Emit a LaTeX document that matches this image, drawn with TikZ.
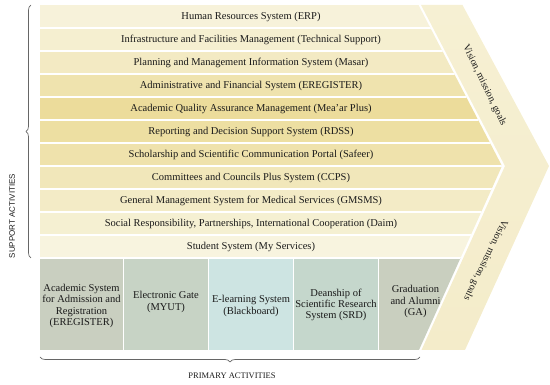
\documentclass[tikz,border=0pt]{standalone}
\usepackage{fontspec}
\setmainfont{Liberation Serif}
\setsansfont{Liberation Sans}
\usetikzlibrary{decorations.pathreplacing}
\definecolor{r1}{HTML}{F7F2DA}
\definecolor{r2}{HTML}{F5EFD0}
\definecolor{r3}{HTML}{F3EAC3}
\definecolor{r4}{HTML}{EFE3AE}
\definecolor{r5}{HTML}{ECDC9B}
\definecolor{r6}{HTML}{EDDFA2}
\definecolor{r7}{HTML}{EFE2AC}
\definecolor{r8}{HTML}{F1E7BA}
\definecolor{r9}{HTML}{F3EBC6}
\definecolor{r10}{HTML}{F5F0D2}
\definecolor{r11}{HTML}{F8F4DF}
\definecolor{p1}{HTML}{C9CFC0}
\definecolor{p2}{HTML}{C7D3C5}
\definecolor{p3}{HTML}{CDE4E2}
\definecolor{p4}{HTML}{C5D7CC}
\definecolor{p5}{HTML}{C9CFBF}
\definecolor{bandtop}{HTML}{F6F0D3}
\definecolor{bandmid}{HTML}{EEE0A4}
\definecolor{bandbot}{HTML}{F4ECCA}
\definecolor{ink}{HTML}{1A1A1A}
\definecolor{bracec}{HTML}{666666}
\begin{document}
\begin{tikzpicture}[x=1pt,y=-1pt,
  rowtext/.style={font=\fontsize{10.5}{12}\selectfont, text=ink, inner sep=0pt},
  boxtext/.style={font=\fontsize{10.5}{11.2}\selectfont, text=ink, align=center, inner sep=0pt},
  bandtext/.style={font=\fontsize{10}{10}\selectfont, text=ink, inner sep=0pt},
  sep/.style={white, line width=1.5pt},
  bracestyle/.style={decorate, decoration={brace, amplitude=5pt}, bracec, line width=0.7pt},
  captext/.style={font=\fontsize{8.5}{9.6}\selectfont, text=ink, inner sep=0pt}]
\useasboundingbox (0,0) rectangle (550,385);
% rows and primary boxes, clipped at the chevron
\begin{scope}
\clip (39.5,5) -- (418.5,5) -- (502,166) -- (419,350) -- (39.5,350) -- cycle;
\foreach \c [count=\i from 0] in {r1,r2,r3,r4,r5,r6,r7,r8,r9,r10,r11}{
  \fill[\c] (39.5,5+23*\i) rectangle (540,28+23*\i);
}
\fill[p1] (39.5,258) rectangle (123.5,350);
\fill[p2] (123.5,258) rectangle (208.5,350);
\fill[p3] (208.5,258) rectangle (293.5,350);
\fill[p4] (293.5,258) rectangle (378.5,350);
\fill[p5] (378.5,258) rectangle (540,350);
\foreach \i in {1,...,11}{
  \draw[sep] (39.5,5+23*\i) -- (540,5+23*\i);
}
\foreach \x in {123.5,208.5,293.5,378.5}{
  \draw[sep] (\x,258) -- (\x,350);
}
\node[boxtext] (b1) at (81.5,306) {Academic System\\for Admission and\\Registration\\(EREGISTER)};
\node[boxtext] (b2) at (166,302) {Electronic Gate\\(MYUT)};
\node[boxtext] (b3) at (251,306) {E-learning System\\(Blackboard)};
\node[boxtext] (b4) at (336,305) {Deanship of\\Scientific Research\\System (SRD)};
\node[boxtext] (b5) at (415.5,301.5) {Graduation\\and Alumni\\(GA)};
\end{scope}
% row labels
\node[rowtext] (s1) at (251,16.5) {Human Resources System (ERP)};
\node[rowtext] (s2) at (251,39.5) {Infrastructure and Facilities Management (Technical Support)};
\node[rowtext] (s3) at (251,62.5) {Planning and Management Information System (Masar)};
\node[rowtext] (s4) at (251,85.5) {Administrative and Financial System (EREGISTER)};
\node[rowtext] (s5) at (251,108.5) {Academic Quality Assurance Management (Mea'ar Plus)};
\node[rowtext] (s6) at (251,131.5) {Reporting and Decision Support System (RDSS)};
\node[rowtext] (s7) at (251,154.5) {Scholarship and Scientific Communication Portal (Safeer)};
\node[rowtext] (s8) at (251,177.5) {Committees and Councils Plus System (CCPS)};
\node[rowtext] (s9) at (251,200.5) {General Management System for Medical Services (GMSMS)};
\node[rowtext] (s10) at (251,223.5) {Social Responsibility, Partnerships, International Cooperation (Daim)};
\node[rowtext] (s11) at (251,246.5) {Student System (My Services)};
% chevron band
\shade[top color=bandtop, middle color=bandmid, bottom color=bandbot]
  (421,5) -- (462.5,5) -- (549,166) -- (465,350) -- (421.5,350) -- (505,166) -- cycle;
\node[bandtext, rotate=-64] (v1) at (484.5,85.5) {Vision, mission, goals};
\node[bandtext, rotate=244] (v2) at (485.5,260) {Vision, mission, goals};
% braces
\coordinate (lbt) at (31,5);
\coordinate (lbb) at (31,258);
\draw[bracestyle] (lbb) -- (lbt);
\coordinate (bbl) at (40,357);
\coordinate (bbr) at (420,357);
\draw[bracestyle] (bbr) -- (bbl);
\node[captext, font=\sffamily\fontsize{8}{9.6}\selectfont, rotate=90] (sa) at (12,216) {SUPPORT ACTIVITIES};
\node[captext] (pa) at (232,376) {PRIMARY ACTIVITIES};
\end{tikzpicture}
\end{document}
